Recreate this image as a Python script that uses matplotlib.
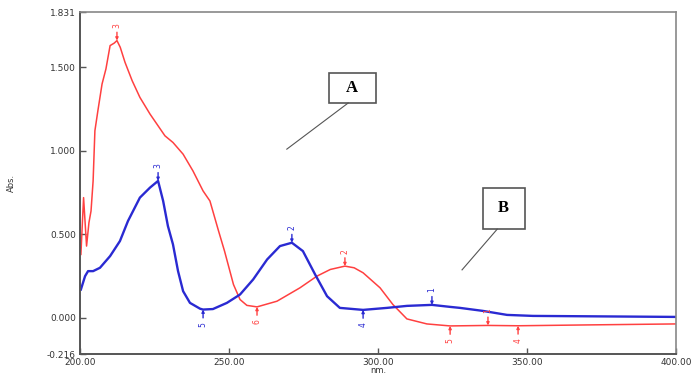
import numpy as np
import matplotlib.pyplot as plt
from matplotlib.patches import Rectangle

# spectrum A (red) - wavelength nm / absorbance
red_nm = [200.3, 201.2, 202.2, 203.0, 203.7, 204.4, 205.0, 206.0, 207.4, 208.7,
          210.1, 211.5, 212.4, 213.5, 215.1, 217.5, 220.1, 223.5, 228.5, 231.2,
          234.6, 237.9, 241.3, 243.6, 246.5, 248.5, 250.0, 251.5, 253.7, 256.0,
          259.4, 266.1, 273.8, 279.5, 284.0, 288.9, 292.0, 295.0, 300.7, 305.0,
          309.7, 316.4, 324.2, 336.9, 347.0, 370.0, 400.0]
red_abs = [0.38, 0.72, 0.43, 0.57, 0.64, 0.82, 1.12, 1.24, 1.40, 1.49,
           1.63, 1.645, 1.66, 1.62, 1.53, 1.42, 1.32, 1.22, 1.09, 1.05,
           0.98, 0.88, 0.76, 0.70, 0.52, 0.40, 0.30, 0.20, 0.11, 0.075,
           0.066, 0.10, 0.18, 0.25, 0.29, 0.31, 0.30, 0.27, 0.18, 0.08,
           -0.006, -0.036, -0.048, -0.045, -0.047, -0.042, -0.036]

# spectrum B (blue)
blue_nm = [200.3, 201.7, 202.7, 204.4, 206.7, 210.1, 213.4, 216.1, 220.1, 223.5,
           226.2, 227.9, 229.5, 231.2, 232.9, 234.6, 236.9, 240.3, 241.3, 244.6,
           249.3, 253.7, 258.1, 262.8, 267.1, 271.1, 274.8, 278.9, 282.9, 287.2,
           295.0, 303.0, 309.7, 318.1, 324.2, 327.5, 335.2, 343.3, 352.0, 399.7]
blue_abs = [0.17, 0.25, 0.28, 0.28, 0.30, 0.37, 0.46, 0.58, 0.72, 0.78,
            0.82, 0.70, 0.55, 0.44, 0.28, 0.16, 0.09, 0.055, 0.05, 0.053,
            0.09, 0.14, 0.23, 0.35, 0.43, 0.45, 0.40, 0.26, 0.13, 0.06,
            0.048, 0.06, 0.072, 0.078, 0.066, 0.06, 0.042, 0.018, 0.012, 0.006]

# peak / valley picks: (label, nm, abs, is_peak)
red_picks = [("3", 212.4, 1.66, True), ("2", 288.9, 0.31, True), ("1", 336.9, -0.045, True),
             ("6", 259.4, 0.066, False), ("5", 324.2, -0.048, False), ("4", 347.0, -0.047, False)]
blue_picks = [("3", 226.2, 0.82, True), ("2", 271.1, 0.45, True), ("1", 318.1, 0.078, True),
              ("5", 241.3, 0.05, False), ("4", 295.0, 0.048, False)]

xticks = [200, 250, 300, 350, 400]
yticks = [-0.216, 0.0, 0.5, 1.0, 1.5, 1.831]

red_c = '#ff4040'
blue_c = '#2a2ad2'

fig = plt.figure(figsize=(6.92, 3.77), dpi=100)
ax = fig.add_axes([80/692, 23/377, 596/692, 342/377])

ax.plot(red_nm, red_abs, color=red_c, lw=1.1)
ax.plot(blue_nm, blue_abs, color=blue_c, lw=1.7)

def picks(lst, col):
    for lab, x, y, peak in lst:
        off = 9 if peak else -9
        ax.annotate(lab, xy=(x, y), xytext=(0, off), textcoords='offset points',
                    ha='center', va='bottom' if peak else 'top', rotation=90,
                    fontsize=5.5, color=col,
                    arrowprops=dict(arrowstyle='-|>', color=col, lw=1.0,
                                    mutation_scale=4, shrinkA=1, shrinkB=0))

picks(red_picks, red_c)
picks(blue_picks, blue_c)

ax.set_xlim(200, 400)
ax.set_ylim(-0.216, 1.831)
ax.set_xticks(xticks)
ax.set_xticklabels(["%.2f" % v for v in xticks])
ax.set_yticks(yticks)
ax.set_yticklabels(["%.3f" % v for v in yticks])
ax.tick_params(direction='in', length=4, width=1, labelsize=6.5,
               labelcolor='#333333', color='#555555', pad=3)
for s in ['left', 'bottom']:
    ax.spines[s].set_color('#555555')
    ax.spines[s].set_linewidth(1.4)
for s in ['top', 'right']:
    ax.spines[s].set_color('#888888')
    ax.spines[s].set_linewidth(1.2)

ax.set_xlabel("nm.", fontsize=6, color='#333333', labelpad=-1)
ax.set_ylabel("Abs.", fontsize=6, color='#333333', labelpad=22)

# callout boxes
ax.add_patch(Rectangle((0.418, 0.734), 0.079, 0.088, transform=ax.transAxes,
                       fill=False, ec='#555555', lw=1.2))
ax.text(0.456, 0.778, "A", transform=ax.transAxes, ha='center', va='center',
        fontsize=12, fontweight='bold', family='Liberation Serif')
ax.plot([0.450, 0.347], [0.734, 0.599], transform=ax.transAxes, color='#555555', lw=0.8)

ax.add_patch(Rectangle((0.676, 0.365), 0.071, 0.120, transform=ax.transAxes,
                       fill=False, ec='#555555', lw=1.2))
ax.text(0.711, 0.427, "B", transform=ax.transAxes, ha='center', va='center',
        fontsize=12, fontweight='bold', family='Liberation Serif')
ax.plot([0.700, 0.641], [0.365, 0.246], transform=ax.transAxes, color='#555555', lw=0.8)

fig.savefig('out.png', dpi=100)
